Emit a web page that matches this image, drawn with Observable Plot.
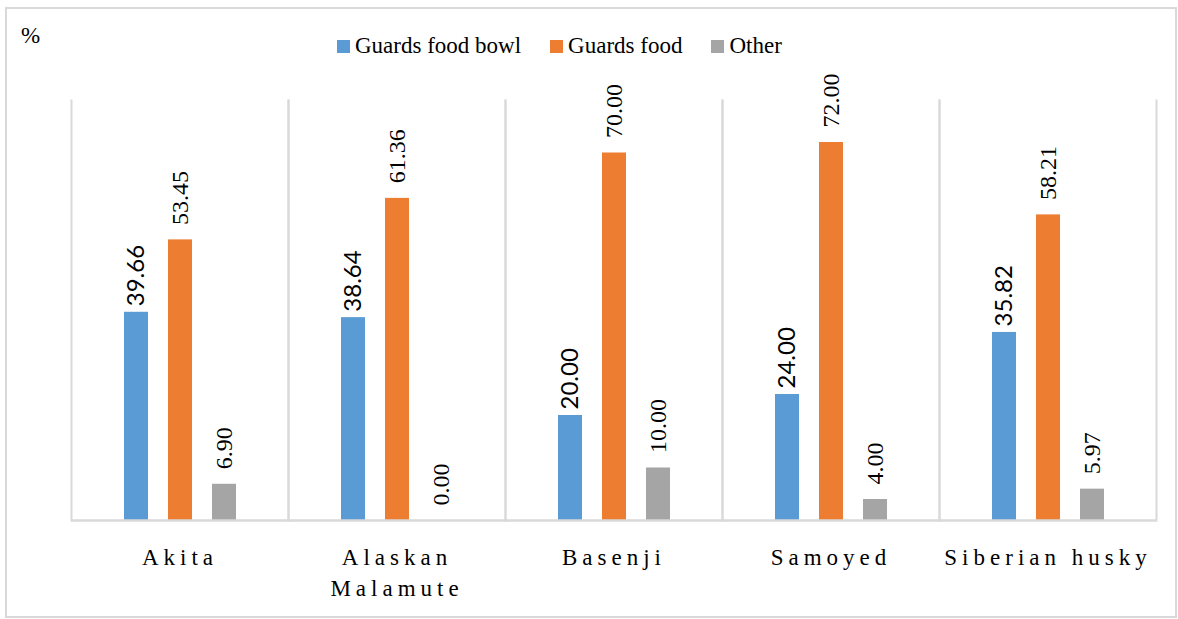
<!DOCTYPE html>
<html>
<head>
<meta charset="utf-8">
<script src="https://cdn.jsdelivr.net/npm/d3@7"></script>
<script src="https://cdn.jsdelivr.net/npm/@observablehq/plot@0.6"></script>
<style>
  html, body { margin: 0; padding: 0; background: #fff; }
  #wrap { position: relative; width: 1178px; height: 619px; overflow: hidden; }
  #border { position: absolute; left: 5px; top: 7px; width: 1172px; height: 611px; box-sizing: border-box; border: 2px solid #d9d9d9; pointer-events: none; }
  #pct { position: absolute; left: 21px; top: 23px; font: 23px "Liberation Serif", serif; color: #000; }
  #legend { position: absolute; left: 337px; top: 33px; display: flex; align-items: center; font: 23px "Liberation Serif", serif; color: #000; }
  .item { display: flex; align-items: center; margin-right: 29px; }
  .sw { width: 13px; height: 13px; margin-right: 5px; }
  #chart { position: absolute; left: 0; top: 0; }
  svg g[aria-label="fx-axis tick label"] text { letter-spacing: 5px; }
</style>
</head>
<body>
<div id="wrap">
  <div id="chart"></div>
  <div id="border"></div>
  <div id="pct">%</div>
  <div id="legend"></div>
</div>
<script>
const breeds = ["Akita", "Alaskan Malamute", "Basenji", "Samoyed", "Siberian husky"];
const breedLabels = ["Akita", "Alaskan\nMalamute", "Basenji", "Samoyed", "Siberian husky"];
const series = ["Guards food bowl", "Guards food", "Other"];
const guardsFoodBowl = [39.66, 38.64, 20.00, 24.00, 35.82];
const guardsFood = [53.45, 61.36, 70.00, 72.00, 58.21];
const other = [6.90, 0.00, 10.00, 4.00, 5.97];
const colors = ["#5b9bd5", "#ed7d31", "#a5a5a5"];

const seriesValues = [guardsFoodBowl, guardsFood, other];
const table = [];
breeds.forEach((b, i) => {
  series.forEach((s, j) => table.push({breed: b, series: s, value: seriesValues[j][i]}));
});

const labelOf = new Map(breeds.map((b, i) => [b, breedLabels[i]]));

const chart = Plot.plot({
  width: 1178,
  height: 619,
  marginLeft: 71,
  marginRight: 22,
  marginTop: 100,
  marginBottom: 99,
  fx: {domain: breeds, padding: 0},
  x: {domain: series, paddingInner: 0.46, paddingOuter: 1.17, axis: null},
  y: {domain: [0, 80], axis: null},
  color: {domain: series, range: colors},
  marks: [
    Plot.frame({anchor: "left", stroke: "#d9d9d9", strokeWidth: 2}),
    Plot.frame({anchor: "right", stroke: "#d9d9d9", strokeWidth: 2}),
    Plot.barY(table, {fx: "breed", x: "series", y: "value", fill: "series"}),
    Plot.ruleY([0], {stroke: "#d9d9d9", strokeWidth: 2.5}),
    Plot.text(table.filter(d => d.series === series[0]), {
      fx: "breed", x: "series", y: "value", text: d => d.value.toFixed(2),
      rotate: -90, textAnchor: "start", lineAnchor: "middle", dy: -6,
      fontFamily: "Lato", fontSize: 24, fill: "#000"
    }),
    Plot.text(table.filter(d => d.series !== series[0]), {
      fx: "breed", x: "series", y: "value", text: d => d.value.toFixed(2),
      rotate: -90, textAnchor: "start", lineAnchor: "middle", dy: -15,
      fontFamily: "Liberation Serif", fontSize: 24, fill: "#000"
    }),
    Plot.axisFx({
      anchor: "bottom", tickSize: 0, tickPadding: 22, label: null,
      tickFormat: d => labelOf.get(d),
      fontSize: 23, fontFamily: "Liberation Serif", lineHeight: 1.35, fill: "#000"
    })
  ]
});
document.getElementById("chart").appendChild(chart);

const legend = document.getElementById("legend");
series.forEach((s, j) => {
  const item = document.createElement("div");
  item.className = "item";
  const sw = document.createElement("span");
  sw.className = "sw";
  sw.style.background = colors[j];
  const t = document.createElement("span");
  t.textContent = s;
  item.appendChild(sw);
  item.appendChild(t);
  legend.appendChild(item);
});
</script>
</body>
</html>
